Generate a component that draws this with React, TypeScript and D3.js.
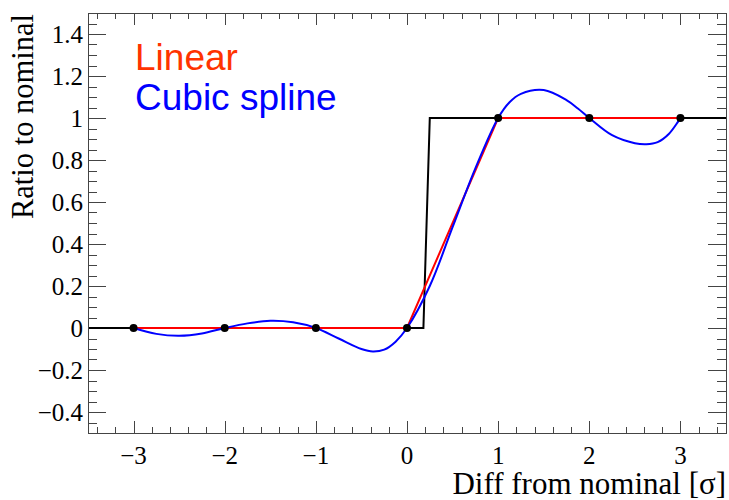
import React from "react";
import * as d3 from "d3";

// Knot points (black markers)
const knotX = [-3, -2, -1, 0, 1, 2, 3];
const knotY = [0, 0, 0, 0, 1, 1, 1];

// Black step curve
const stepX = [-3.5, 0.18, 0.25, 3.5];
const stepY = [0, 0, 1, 1];

// Blue cubic spline
const splineX = [-3, -2.75, -2.5, -2.25, -2, -1.75, -1.5, -1.25, -1, -0.75, -0.5, -0.375, -0.25, -0.125, 0, 0.25, 0.5, 0.75, 1, 1.125, 1.25, 1.5, 1.75, 1.875, 2, 2.25, 2.5, 2.625, 2.75, 2.875, 3];
const splineY = [0, -0.028, -0.037, -0.026, 0, 0.022, 0.034, 0.027, 0, -0.05, -0.1, -0.112, -0.103, -0.065, 0, 0.2, 0.48, 0.76, 1, 1.075, 1.115, 1.133, 1.085, 1.045, 1, 0.918, 0.88, 0.875, 0.885, 0.925, 1];

const xTickLabels = [-3, -2, -1, 0, 1, 2, 3];
const yTickLabels = [-0.4, -0.2, 0, 0.2, 0.4, 0.6, 0.8, 1, 1.2, 1.4];

const legendLabels = ["Linear", "Cubic spline"];

const W = 729;
const H = 500;
const L = 88, R = 726, T = 13, B = 433;

export default function App() {
  const x = d3.scaleLinear().domain([-3.5, 3.5]).range([L, R]);
  const y = d3.scaleLinear().domain([-0.5, 1.5]).range([B, T]);

  const fmt = (v: number) => String(+v.toFixed(2)).replace("-", "\u2212");

  const line = d3
    .line<[number, number]>()
    .x((d) => x(d[0]))
    .y((d) => y(d[1]));
  const smooth = d3
    .line<[number, number]>()
    .x((d) => x(d[0]))
    .y((d) => y(d[1]))
    .curve(d3.curveCatmullRom.alpha(0.5));

  const stepPts = stepX.map((v, i) => [v, stepY[i]] as [number, number]);
  const linPts = knotX.map((v, i) => [v, knotY[i]] as [number, number]);
  const splPts = splineX.map((v, i) => [v, splineY[i]] as [number, number]);

  const xMinor = d3.range(-34, 35, 2).map((v) => v / 10);
  const yMinor = d3.range(-10, 31, 1).map((v) => v / 20);

  const tickColor = "#444";
  const serif = "'Liberation Serif', 'DejaVu Serif', serif";
  const sans = "'Liberation Sans', Arial, sans-serif";

  return (
    <svg
      width={W}
      height={H}
      style={{ position: "absolute", left: 0, top: 0, background: "#fff" }}
    >
      <rect x={0} y={0} width={W} height={H} fill="#fff" />
      {/* ticks */}
      <g stroke={tickColor} strokeWidth={1}>
        {xMinor.map((v) => {
          const major = Math.abs(v - Math.round(v)) < 1e-6;
          const len = major ? 12 : 6;
          const px = Math.round(x(v)) + 0.5;
          return (
            <g key={"xt" + v}>
              <line x1={px} x2={px} y1={B} y2={B - len} />
              <line x1={px} x2={px} y1={T} y2={T + len} />
            </g>
          );
        })}
        {yMinor.map((v) => {
          const major = Math.abs(v * 5 - Math.round(v * 5)) < 1e-6;
          const len = major ? 18 : 9;
          const py = Math.round(y(v)) + 0.5;
          return (
            <g key={"yt" + v}>
              <line x1={L} x2={L + len} y1={py} y2={py} />
              <line x1={R} x2={R - len} y1={py} y2={py} />
            </g>
          );
        })}
      </g>
      {/* curves */}
      <path d={line(stepPts) || ""} fill="none" stroke="#000" strokeWidth={2} />
      <path d={line(linPts) || ""} fill="none" stroke="#ff0000" strokeWidth={2} />
      <path d={smooth(splPts) || ""} fill="none" stroke="#0000ff" strokeWidth={2} />
      {linPts.map((d, i) => (
        <circle key={"k" + i} cx={x(d[0])} cy={y(d[1])} r={4} fill="#000" />
      ))}
      {/* frame */}
      <rect x={L + 0.5} y={T + 0.5} width={R - L} height={B - T} fill="none" stroke={tickColor} strokeWidth={1} />
      {/* tick labels */}
      <g fontFamily={serif} fontSize={25} fill="#000">
        {xTickLabels.map((v) => (
          <text key={"xl" + v} x={x(v)} y={464} textAnchor="middle">
            {fmt(v)}
          </text>
        ))}
        {yTickLabels.map((v) => (
          <text key={"yl" + v} x={83} y={y(v) + 8.5} textAnchor="end">
            {fmt(v)}
          </text>
        ))}
      </g>
      {/* axis titles */}
      <text x={R} y={494} textAnchor="end" fontFamily={serif} fontSize={31} fill="#000">
        Diff from nominal [σ]
      </text>
      <text
        transform={`translate(33, ${T + 1}) rotate(-90)`}
        textAnchor="end"
        fontFamily={serif}
        fontSize={30.5}
        fill="#000"
      >
        Ratio to nominal
      </text>
      {/* legend */}
      <text x={135} y={70} fontFamily={sans} fontSize={37} fill="#ff3300">
        {legendLabels[0]}
      </text>
      <text x={135} y={110} fontFamily={sans} fontSize={37} fill="#0000ff">
        {legendLabels[1]}
      </text>
    </svg>
  );
}
